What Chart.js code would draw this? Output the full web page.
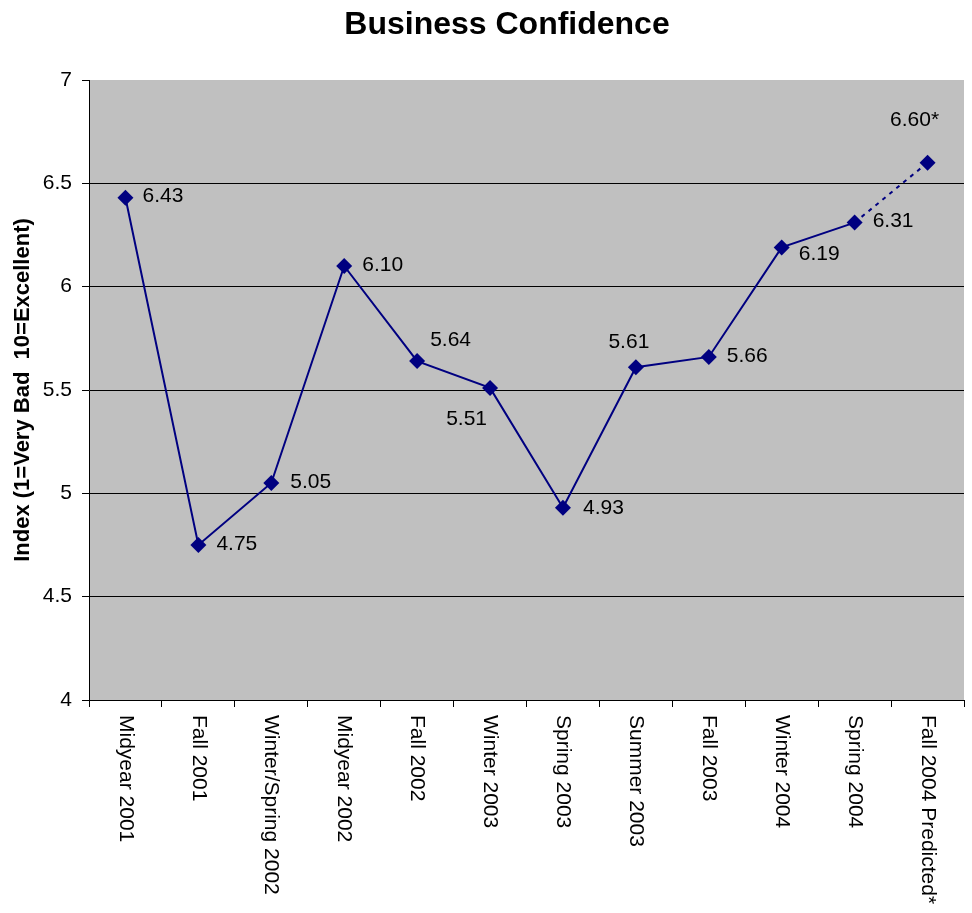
<!DOCTYPE html>
<html>
<head>
<meta charset="utf-8">
<title>Business Confidence</title>
<script src="https://cdn.jsdelivr.net/npm/chart.js@4/dist/chart.umd.min.js"></script>
<style>
  html, body { margin: 0; padding: 0; background: #fff; }
</style>
</head>
<body>
<canvas id="myChart" width="972" height="913"></canvas>
<script>
var chartTitle = "Business Confidence";
var axisTitle = "Index (1=Very Bad  10=Excellent)";
var periods = ["Midyear 2001", "Fall 2001", "Winter/Spring 2002", "Midyear 2002", "Fall 2002", "Winter 2003",
    "Spring 2003", "Summer 2003", "Fall 2003", "Winter 2004", "Spring 2004", "Fall 2004 Predicted*"];
var confidence = [6.43, 4.75, 5.05, 6.10, 5.64, 5.51, 4.93, 5.61, 5.66, 6.19, 6.31, 6.60];
var predicted = [false, false, false, false, false, false, false, false, false, false, false, true];
var yMin = 4, yMax = 7, yStep = 0.5;

// where each value label sits relative to its point: [dx, dy, align]
var labelPlace = [
    [17, -2, "left"], [18, -1, "left"], [19, -1, "left"], [18, -1, "left"],
    [13, -21, "left"], [-3, 31, "right"], [20, 0, "left"], [-7, -25, "center"],
    [18, -1, "left"], [17, 7, "left"], [18, -1, "left"], [-13, -42, "center"]
];

var font = '"Liberation Sans", Arial, sans-serif';
Chart.defaults.font.family = font;
Chart.defaults.color = "#000";

var decorations = {
    id: "decorations",
    beforeDraw: function (chart) {
        var ctx = chart.ctx, a = chart.chartArea;
        ctx.save();
        ctx.fillStyle = "#fff";
        ctx.fillRect(0, 0, chart.width, chart.height);
        ctx.fillStyle = "#c0c0c0";
        ctx.fillRect(a.left, a.top, a.right - a.left, a.bottom - a.top);
        ctx.restore();
    },
    afterDraw: function (chart) {
        var ctx = chart.ctx;
        var xs = chart.scales.x;
        ctx.save();
        ctx.fillStyle = "#000";

        // title
        ctx.font = "bold 32px " + font;
        ctx.textAlign = "center";
        ctx.textBaseline = "alphabetic";
        ctx.fillText(chartTitle, 507, 34);

        // category labels, rotated to read downwards
        ctx.font = "21px " + font;
        ctx.textAlign = "left";
        ctx.textBaseline = "middle";
        periods.forEach(function (p, i) {
            ctx.save();
            ctx.translate(xs.getPixelForValue(i), xs.top + 15);
            ctx.rotate(Math.PI / 2);
            ctx.fillText(p, 0, 0);
            ctx.restore();
        });

        // value labels
        var pts = chart.getDatasetMeta(0).data;
        pts.forEach(function (pt, i) {
            var pl = labelPlace[i];
            ctx.textAlign = pl[2];
            ctx.fillText(confidence[i].toFixed(2) + (predicted[i] ? "*" : ""), pt.x + pl[0], pt.y + pl[1]);
        });
        ctx.restore();
    }
};

new Chart("myChart", {
    type: "line",
    data: {
        labels: periods,
        datasets: [{
            data: confidence,
            borderColor: "#000080",
            backgroundColor: "#000080",
            borderWidth: 2,
            tension: 0,
            pointStyle: "rectRot",
            pointRadius: 8,
            pointBorderWidth: 0,
            pointBackgroundColor: "#000080",
            segment: {
                borderDash: function (ctx) {
                    return predicted[ctx.p1DataIndex] ? [4, 5] : undefined;
                }
            }
        }]
    },
    options: {
        responsive: false,
        animation: false,
        layout: {padding: {top: 80, right: 6, left: 0, bottom: 0}},
        plugins: {
            legend: {display: false},
            title: {display: false},
            tooltip: {enabled: false}
        },
        scales: {
            x: {
                offset: true,
                grid: {offset: true, drawOnChartArea: false, tickLength: 7, color: "#000", tickColor: "#000"},
                border: {color: "#000"},
                ticks: {display: false},
                afterFit: function (s) { s.height = 213; }
            },
            y: {
                min: yMin,
                max: yMax,
                ticks: {
                    stepSize: yStep,
                    padding: 10,
                    font: {size: 21},
                    color: "#000",
                    callback: function (v) { return String(v); }
                },
                grid: {
                    tickLength: 7,
                    tickColor: "#000",
                    color: function (c) { return c.tick && c.tick.value === yMax ? "rgba(0,0,0,0)" : "#000"; }
                },
                border: {color: "#000"},
                title: {
                    display: true,
                    text: axisTitle,
                    font: {size: 22, weight: "bold"},
                    color: "#000",
                    padding: {top: 10, bottom: 0}
                },
                afterFit: function (s) { s.width = 89; }
            }
        }
    },
    plugins: [decorations]
});
</script>
</body>
</html>
